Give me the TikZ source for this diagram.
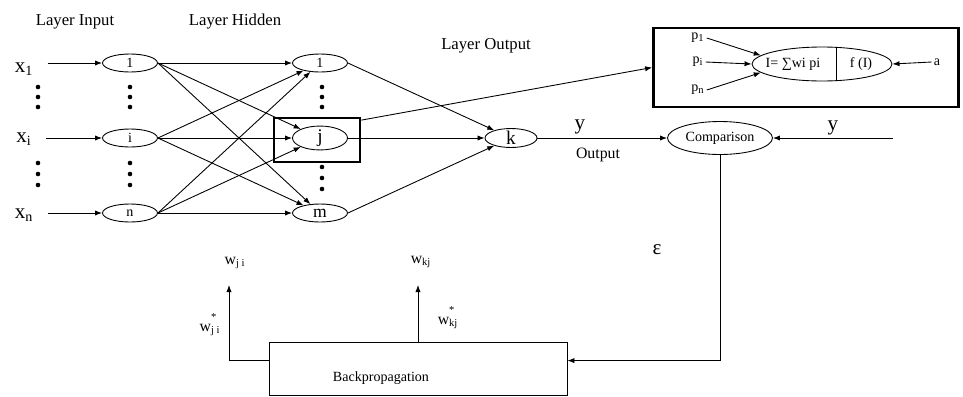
\documentclass[tikz,border=0pt]{standalone}
\usepackage{fontspec}
\setmainfont{Liberation Serif}
\usetikzlibrary{shapes.geometric,arrows.meta}

\begin{document}
\begin{tikzpicture}[x=0.02cm, y=-0.02cm, line width=0.5pt,
  neuron/.style={draw, ellipse, minimum width=1.1cm, minimum height=0.36cm, inner sep=0pt, font=\fontsize{8}{9}\selectfont},
  title/.style={font=\fontsize{9.5}{11}\selectfont},
  xlabel/.style={font=\fontsize{12}{13}\selectfont, inner sep=1pt},
  wlabel/.style={font=\fontsize{9}{10}\selectfont, inner sep=0pt},
  small/.style={font=\fontsize{8}{9}\selectfont, inner sep=1pt},
  arr/.style={-{Latex[length=4pt,width=3pt]}},
  bigbox/.style={draw, line width=1.6pt, inner sep=0pt},
  bullet/.style={circle, fill, inner sep=0pt, minimum size=2.6pt},
]
\useasboundingbox (0,0) rectangle (963,396);

% Layer titles
\node[title] (tin) at (75,22) {Layer Input};
\node[title] (thid) at (235,22) {Layer Hidden};
\node[title] (tout) at (486,46) {Layer Output};

% Input values
\node[xlabel] (x1) at (24,69) {x\textsubscript{1}};
\node[xlabel] (xi) at (24,139) {x\textsubscript{i}};
\node[xlabel] (xn) at (24,215) {x\textsubscript{n}};

% Input layer
\node[neuron] (in1) at (130,63) {1};
\node[neuron] (ini) at (130,138) {i};
\node[neuron] (inn) at (130,213) {n};

% Hidden layer
\node[neuron] (h1) at (320,63) {1};
\node[neuron, font=\fontsize{11}{12}\selectfont] (hj) at (320,138) {j};
\node[neuron, font=\fontsize{10}{11}\selectfont] (hm) at (320,213) {m};
\node[bigbox, minimum width=1.72cm, minimum height=0.88cm] (jbox) at (317,140) {};

% Output layer
\node[neuron, minimum width=1.04cm, font=\fontsize{11}{12}\selectfont] (k) at (511,138) {k};

% Dots between nodes
\foreach \x in {38,130}
  \foreach \y in {87,97,107,163,174,185}
    \node[bullet] (d\x-\y) at (\x,\y) {};
\foreach \y in {87,97,107,167,178,189}
  \node[bullet] (dh-\y) at (322,\y) {};

% Connections
\draw[arr] ([xshift=7pt]x1.east |- in1) -- (in1);
\draw[arr] ([xshift=7pt]xi.east |- ini) -- (ini);
\draw[arr] ([xshift=7pt]xn.east |- inn) -- (inn);
\foreach \s in {in1,ini,inn}
  \foreach \t in {h1,hj,hm}
    \draw[arr] (\s.east) -- (\t);
\foreach \s in {h1,hj,hm}
  \draw[arr] (\s.east) -- (k);

% Neuron detail
\node[bigbox, minimum width=6.1cm, minimum height=1.58cm] (nbox) at (806,67.5) {};
\node[draw, ellipse, minimum width=2.8cm, minimum height=0.68cm, inner sep=0pt] (sum) at (822,64) {};
\draw ([xshift=0.28cm,yshift=-0.2pt]sum.north) -- ([xshift=0.28cm,yshift=0.2pt]sum.south);
\node[small] (sumtxt) at (793,64) {I= ∑wi pi};
\node[small] (ftxt) at (861,64) {f (I)};
\node[small] (pone) at (698,38) {p\textsubscript{1}};
\node[small] (pii) at (698,62) {p\textsubscript{i}};
\node[small] (pn) at (698,90) {p\textsubscript{n}};
\node[small] (aout) at (937,62) {a};
\draw[arr] (pone.east) -- (sum.172);
\draw[arr] (pii.east) -- (sum.west);
\draw[arr] (pn.east) -- (sum.188);
\draw[arr] (aout.west) -- (sum.east);
\draw[arr] ([yshift=-2pt]jbox.north east) -- (nbox.west);

% Comparison
\node[draw, ellipse, minimum width=2.1cm, minimum height=0.66cm, inner sep=0pt, font=\fontsize{8}{9}\selectfont] (cmp) at (720,138) {Comparison};
\coordinate (yin) at (893,138);
\draw[arr] (k) -- (cmp);
\draw[arr] (yin) -- (cmp);
\node[xlabel] (yk) at (580,127) {y};
\node[wlabel] (outlbl) at (598,155) {Output};
\node[xlabel] (yr) at (833,128) {y};

% Backpropagation
\node[draw, minimum width=5.96cm, minimum height=1.06cm] (bp) at (418,368.5) {};
\node[small] (bptxt) at (381,378) {Backpropagation};
\coordinate (wjitip) at (229,285);
\coordinate (wkjtip) at (418,285);
\draw[arr] (cmp.south) |- ([yshift=4.5pt]bp.east);
\draw[arr] ([yshift=4.5pt]bp.west) -| (wjitip);
\draw[arr] (bp.north) -- (wkjtip);
\node[xlabel] (eps) at (657,250) {ε};
\node[wlabel] (wji) at (235,263) {w\textsubscript{j i}};
\node[wlabel] (wjis) at (210,325) {w\rlap{\raisebox{0.6ex}{\textsuperscript{*}}}\textsubscript{j i}};
\node[wlabel] (wkj) at (421,262) {w\textsubscript{kj}};
\node[wlabel] (wkjs) at (448,318) {w\rlap{\raisebox{0.6ex}{\textsuperscript{*}}}\textsubscript{kj}};

\end{tikzpicture}
\end{document}
